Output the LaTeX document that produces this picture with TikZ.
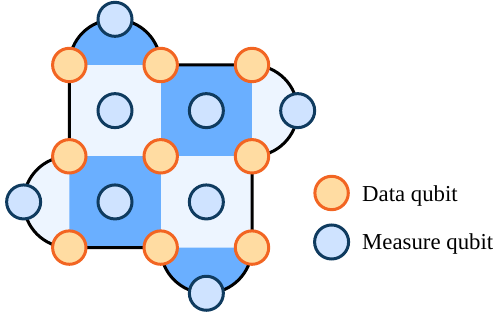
\documentclass[tikz,border=0pt]{standalone}
\usepackage{fontspec}
\setmainfont{Liberation Serif}
\definecolor{tiledark}{HTML}{6AAFFF}
\definecolor{tilelight}{HTML}{EDF5FF}
\definecolor{datafill}{HTML}{FFDCA2}
\definecolor{dataedge}{HTML}{F26522}
\definecolor{measfill}{HTML}{CFE3FF}
\definecolor{measedge}{HTML}{0F3B5F}
\tikzset{
  dataq/.style={circle, draw=dataedge, fill=datafill, line width=3pt, minimum size=33.4pt, inner sep=0pt},
  measq/.style={circle, draw=measedge, fill=measfill, line width=3pt, minimum size=34pt, inner sep=0pt},
  legendtext/.style={anchor=base west, inner sep=0pt, font=\fontsize{22.8}{26}\selectfont},
}
\begin{document}
\begin{tikzpicture}[x=1pt, y=1pt]
\useasboundingbox (0,0) rectangle (496,320);
% lattice corners (data qubit positions)
\def\xa{69.3}\def\xb{160.7}\def\xc{252}
\def\ya{255}\def\yb{163.7}\def\yc{72.4}
\def\rr{45.67}
% plaquettes
\fill[tilelight] (\xa,\yb) rectangle (\xb,\ya);
\fill[tiledark]  (\xb,\yb) rectangle (\xc,\ya);
\fill[tiledark]  (\xa,\yc) rectangle (\xb,\yb);
\fill[tilelight] (\xb,\yc) rectangle (\xc,\yb);
% boundary half-plaquettes
\fill[tiledark]  (\xa,\ya) arc (180:0:\rr) -- cycle;
\fill[tilelight] (\xc,\ya) arc (90:-90:\rr) -- cycle;
\fill[tiledark]  (\xc,\yc) arc (0:-180:\rr) -- cycle;
\fill[tilelight] (\xa,\yc) arc (270:90:\rr) -- cycle;
% outer boundary
\draw[line width=3pt, line join=round]
  (\xa,\ya) arc (180:0:\rr) -- (\xc,\ya) arc (90:-90:\rr) -- (\xc,\yc)
  arc (0:-180:\rr) -- (\xa,\yc) arc (270:90:\rr) -- cycle;
% measure qubits
\node[measq] (m1) at ({(\xa+\xb)/2},{(\ya+\yb)/2}) {};
\node[measq] (m2) at ({(\xb+\xc)/2},{(\ya+\yb)/2}) {};
\node[measq] (m3) at ({(\xa+\xb)/2},{(\yb+\yc)/2}) {};
\node[measq] (m4) at ({(\xb+\xc)/2},{(\yb+\yc)/2}) {};
\node[measq] (mt) at ({(\xa+\xb)/2},{\ya+\rr}) {};
\node[measq] (mr) at ({\xc+\rr},{(\ya+\yb)/2}) {};
\node[measq] (mb) at ({(\xb+\xc)/2},{\yc-\rr}) {};
\node[measq] (ml) at ({\xa-\rr},{(\yb+\yc)/2}) {};
% data qubits
\node[dataq] (d11) at (\xa,\ya) {};
\node[dataq] (d12) at (\xb,\ya) {};
\node[dataq] (d13) at (\xc,\ya) {};
\node[dataq] (d21) at (\xa,\yb) {};
\node[dataq] (d22) at (\xb,\yb) {};
\node[dataq] (d23) at (\xc,\yb) {};
\node[dataq] (d31) at (\xa,\yc) {};
\node[dataq] (d32) at (\xb,\yc) {};
\node[dataq] (d33) at (\xc,\yc) {};
% legend
\node[dataq] (ld) at (331.6,127) {};
\node[measq] (lm) at (331.6,78) {};
\node[legendtext] (ldt) at (362,118.3) {Data qubit};
\node[legendtext] (lmt) at (362,70) {Measure qubit};
\end{tikzpicture}
\end{document}
